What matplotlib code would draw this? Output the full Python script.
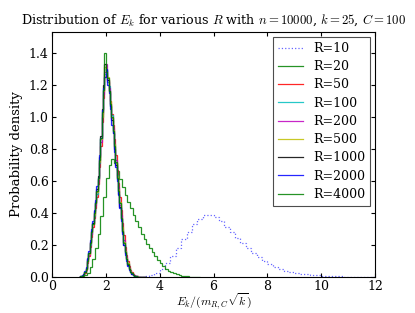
import numpy as np
import matplotlib
matplotlib.use("Agg")
import matplotlib.pyplot as plt

plt.rcParams['font.family'] = 'DejaVu Serif'
plt.rcParams['mathtext.fontset'] = 'cm'

# bin grids (edges) for the three kinds of histograms
edges_r10 = np.round(np.arange(3.0, 12.01, 0.2), 2)
edges_r20 = np.round(np.arange(1.2, 5.51, 0.1), 2)
edges_big = np.round(np.arange(1.0, 3.501, 0.05), 3)

dens_r10 = [0.0, 0.002, 0.005, 0.012, 0.028, 0.05, 0.085, 0.13, 0.18, 0.235,
            0.28, 0.33, 0.365, 0.385, 0.39, 0.375, 0.35, 0.315, 0.28, 0.245,
            0.21, 0.18, 0.15, 0.122, 0.10, 0.08, 0.064, 0.05, 0.04, 0.032,
            0.025, 0.02, 0.016, 0.012, 0.01, 0.008, 0.006, 0.005, 0.004, 0.003,
            0.002, 0.002, 0.001, 0.001, 0.0]
dens_r20 = [0.01, 0.025, 0.06, 0.11, 0.18, 0.27, 0.38, 0.50,
            0.62, 0.70, 0.74, 0.71, 0.66, 0.61, 0.56, 0.51, 0.47, 0.43,
            0.39, 0.35, 0.31, 0.27, 0.235, 0.205, 0.18, 0.155, 0.13, 0.105,
            0.085, 0.067, 0.052, 0.04, 0.03, 0.022, 0.016, 0.012, 0.009, 0.006,
            0.004, 0.003, 0.002, 0.001, 0.0]
dens_r50 = [0.001, 0.003, 0.006, 0.011, 0.025, 0.045, 0.085, 0.13, 0.19, 0.25,
            0.31, 0.37, 0.43, 0.50, 0.58, 0.69, 0.82, 0.97, 1.12, 1.25,
            1.27, 1.22, 1.17, 1.10, 1.02, 0.95, 0.86, 0.76, 0.67, 0.59,
            0.50, 0.42, 0.34, 0.26, 0.19, 0.14, 0.10, 0.068, 0.045, 0.03,
            0.019, 0.012, 0.008, 0.005, 0.003, 0.002, 0.001, 0.001, 0.0, 0.0]
dens_r100 = [0.002, 0.004, 0.008, 0.014, 0.03, 0.052, 0.10, 0.15, 0.20, 0.27,
             0.34, 0.38, 0.46, 0.52, 0.61, 0.71, 0.86, 1.00, 1.17, 1.27,
             1.30, 1.22, 1.19, 1.07, 1.01, 0.91, 0.83, 0.71, 0.64, 0.54,
             0.46, 0.37, 0.30, 0.22, 0.16, 0.12, 0.085, 0.055, 0.036, 0.024,
             0.015, 0.009, 0.006, 0.004, 0.002, 0.002, 0.001, 0.001, 0.0, 0.0]
dens_r200 = [0.002, 0.004, 0.009, 0.013, 0.032, 0.05, 0.11, 0.14, 0.22, 0.27,
             0.33, 0.40, 0.45, 0.54, 0.60, 0.73, 0.84, 1.02, 1.14, 1.28,
             1.33, 1.23, 1.18, 1.08, 0.99, 0.93, 0.81, 0.73, 0.62, 0.56,
             0.45, 0.39, 0.29, 0.23, 0.16, 0.125, 0.08, 0.058, 0.035, 0.025,
             0.014, 0.01, 0.006, 0.004, 0.002, 0.002, 0.001, 0.0, 0.0, 0.0]
dens_r500 = [0.002, 0.005, 0.008, 0.014, 0.031, 0.05, 0.10, 0.145, 0.21, 0.28,
             0.33, 0.39, 0.46, 0.53, 0.61, 0.72, 0.86, 1.00, 1.16, 1.31,
             1.29, 1.25, 1.15, 1.10, 0.99, 0.92, 0.83, 0.71, 0.63, 0.55,
             0.47, 0.37, 0.31, 0.22, 0.16, 0.12, 0.085, 0.054, 0.036, 0.023,
             0.015, 0.009, 0.006, 0.004, 0.002, 0.001, 0.001, 0.0, 0.0, 0.0]
dens_r1000 = [0.002, 0.005, 0.009, 0.016, 0.034, 0.056, 0.11, 0.15, 0.22, 0.29,
              0.34, 0.41, 0.47, 0.55, 0.63, 0.75, 0.88, 1.05, 1.20, 1.33,
              1.29, 1.23, 1.16, 1.07, 0.98, 0.90, 0.80, 0.70, 0.61, 0.52,
              0.44, 0.36, 0.28, 0.20, 0.15, 0.11, 0.075, 0.05, 0.032, 0.02,
              0.013, 0.008, 0.005, 0.003, 0.002, 0.001, 0.001, 0.0, 0.0, 0.0]
dens_r2000 = [0.003, 0.005, 0.01, 0.017, 0.036, 0.06, 0.12, 0.16, 0.23, 0.30,
              0.35, 0.42, 0.48, 0.57, 0.62, 0.76, 0.87, 1.04, 1.18, 1.25,
              1.30, 1.20, 1.15, 1.05, 0.95, 0.90, 0.78, 0.69, 0.60, 0.51,
              0.43, 0.35, 0.27, 0.20, 0.14, 0.10, 0.07, 0.046, 0.03, 0.019,
              0.012, 0.007, 0.005, 0.003, 0.002, 0.001, 0.0, 0.0, 0.0, 0.0]
dens_r4000 = [0.002, 0.004, 0.008, 0.015, 0.03, 0.053, 0.10, 0.15, 0.21, 0.28,
              0.33, 0.40, 0.46, 0.54, 0.62, 0.73, 0.87, 1.03, 1.17, 1.40,
              1.28, 1.24, 1.16, 1.08, 1.00, 0.91, 0.82, 0.72, 0.62, 0.54,
              0.46, 0.37, 0.29, 0.21, 0.155, 0.115, 0.08, 0.052, 0.034, 0.022,
              0.014, 0.008, 0.005, 0.003, 0.002, 0.001, 0.001, 0.0, 0.0, 0.0]

labels = ['R=10', 'R=20', 'R=50', 'R=100', 'R=200', 'R=500', 'R=1000', 'R=2000', 'R=4000']
series = [(dens_r10, edges_r10), (dens_r20, edges_r20), (dens_r50, edges_big),
          (dens_r100, edges_big), (dens_r200, edges_big), (dens_r500, edges_big),
          (dens_r1000, edges_big), (dens_r2000, edges_big), (dens_r4000, edges_big)]
colors = ['b', 'g', 'r', 'c', 'm', 'y', 'k', 'b', 'g']

fig = plt.figure(figsize=(4.15, 3.13), dpi=100)
ax = fig.add_axes([0.1253, 0.115, 0.7784, 0.7828])

for i, (vals, edges) in enumerate(series):
    ls = ':' if i == 0 else '-'
    alpha = 0.6 if i == 0 else 0.85
    ax.stairs(vals, edges, color=colors[i], linestyle=ls, linewidth=0.9,
              alpha=alpha, label=labels[i])

ax.set_xlim(0, 12)
ax.set_ylim(0, 1.53)
ax.set_xticks(np.arange(0, 13, 2))
ax.set_yticks(np.arange(0, 1.41, 0.2))
ax.tick_params(direction='in', top=True, right=True, length=3, labelsize=9, pad=2.5)
ax.tick_params(axis='x', pad=2)
for s in ax.spines.values():
    s.set_linewidth(0.8)

ax.set_xlabel(r'$E_k/(m_{R,C}\sqrt{k})$', fontsize=8.5)
ax.xaxis.set_label_coords(0.5, -0.062)
ax.set_ylabel('Probability density', fontsize=9.5)
ax.set_title(r'Distribution of $E_k$ for various $R$ with $n=10000$, $k=25$, $C=100$',
             fontsize=9.2)

leg = ax.legend(loc='upper right', fontsize=9, fancybox=False, framealpha=1,
                edgecolor='0.3', borderaxespad=0.4, labelspacing=0.42)
leg.get_frame().set_linewidth(0.8)

fig.savefig('out.png', dpi=100)
